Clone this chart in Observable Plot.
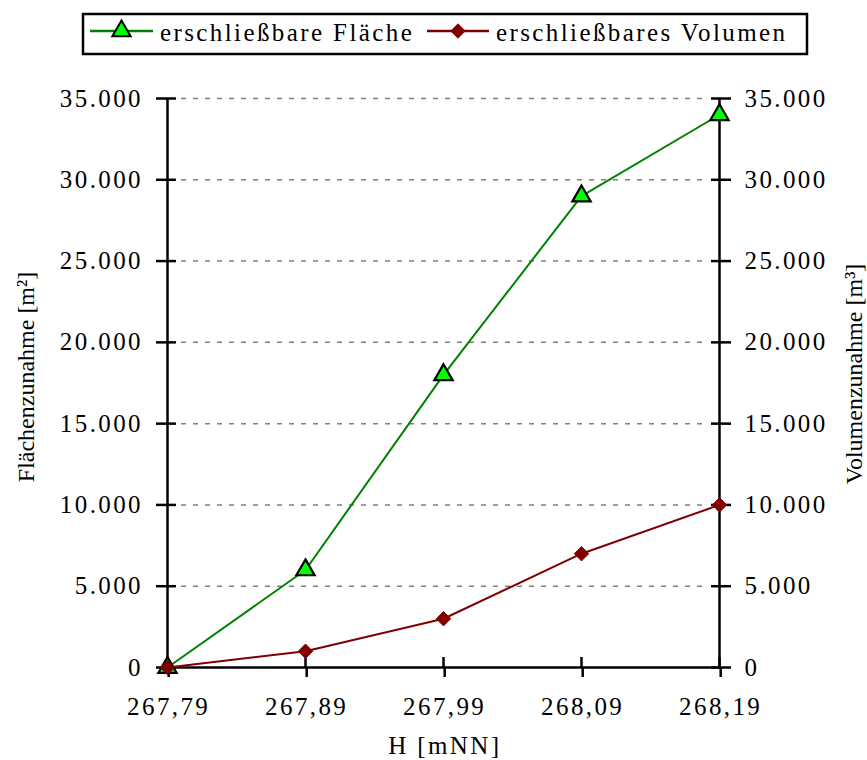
<!DOCTYPE html>
<html>
<head>
<meta charset="utf-8">
<script src="https://cdn.jsdelivr.net/npm/d3@7"></script>
<script src="https://cdn.jsdelivr.net/npm/@observablehq/plot@0.6"></script>
<style>
  body { margin: 0; background: #fff; }
  #wrap { position: relative; width: 867px; height: 760px; font-family: "Liberation Serif", "Times New Roman", serif; }
  #chart svg text { letter-spacing: 2.4px; }
  #chart svg text.title { letter-spacing: 0px; }
  #legend { position: absolute; left: 0; top: 0; }
</style>
</head>
<body>
<div id="wrap">
  <div id="chart"></div>
  <div id="legend"></div>
</div>
<script>
const categories = ["267,79", "267,89", "267,99", "268,09", "268,19"];
const flaeche = [0, 6000, 18000, 29000, 34000];
const volumen = [0, 1000, 3000, 7000, 10000];
const yTicks = [0, 5000, 10000, 15000, 20000, 25000, 30000, 35000];
const seriesNames = ["erschließbare Fläche", "erschließbares Volumen"];
const xTitle = "H [mNN]";
const yLeftTitle = "Flächenzunahme [m²]";
const yRightTitle = "Volumenzunahme [m³]";

const de = d3.formatLocale({decimal: ",", thousands: ".", grouping: [3], currency: ["", " €"]});
const fmt = de.format(",");

const dataF = categories.map((c, i) => ({x: c, y: flaeche[i]}));
const dataV = categories.map((c, i) => ({x: c, y: volumen[i]}));

const font = 25;
const blank = () => "";

const plot = Plot.plot({
  width: 867,
  height: 760,
  marginLeft: 166,
  marginRight: 147,
  marginTop: 98,
  marginBottom: 93,
  style: {fontFamily: "Liberation Serif, Times New Roman, serif", fontSize: font + "px", color: "#000", background: "#fff"},
  x: {type: "point", domain: categories, padding: 0, label: null},
  y: {domain: [0, 35000], label: null},
  marks: [
    Plot.ruleY(yTicks.filter(d => d > 0), {y: d => d, stroke: "#808080", strokeWidth: 1.5, strokeDasharray: "5,7", insetLeft: 15, insetRight: 12}),
    Plot.axisY({anchor: "left", ticks: yTicks, tickSize: 10, tickPadding: 13.5, tickFormat: fmt, strokeWidth: 2.5, fontSize: font}),
    Plot.axisY({anchor: "left", ticks: yTicks, tickSize: 10, dx: 10, tickFormat: blank, strokeWidth: 2.5}),
    Plot.axisY({anchor: "right", ticks: yTicks, tickSize: 10, tickPadding: 14, tickFormat: fmt, strokeWidth: 2.5, fontSize: font}),
    Plot.axisY({anchor: "right", ticks: yTicks, tickSize: 10, dx: -10, tickFormat: blank, strokeWidth: 2.5}),
    Plot.axisX({anchor: "bottom", tickSize: 10, tickPadding: 20, dx: 1.2, strokeWidth: 2.5, fontSize: font}),
    Plot.axisX({anchor: "bottom", tickSize: 10, dy: -10, tickFormat: blank, strokeWidth: 2.5}),
    Plot.ruleX([categories[0], categories[categories.length - 1]], {x: d => d, stroke: "#000", strokeWidth: 2.5}),
    Plot.ruleY([0], {stroke: "#000", strokeWidth: 2.5}),
    Plot.line(dataF, {x: "x", y: "y", stroke: "#008000", strokeWidth: 2}),
    Plot.dot(dataF, {x: "x", y: "y", symbol: "triangle", r: 6.8, fill: "#00ff00", stroke: "#000", strokeWidth: 2.2}),
    Plot.line(dataV, {x: "x", y: "y", stroke: "#800000", strokeWidth: 2}),
    Plot.dot(dataV, {x: "x", y: "y", symbol: "diamond2", r: 6.5, fill: "#800000", stroke: "#800000", strokeWidth: 1}),
    Plot.text([xTitle], {text: d => d, frameAnchor: "bottom", dy: 86, dx: 1.3, fontSize: font, textAnchor: "middle"}),
    Plot.text([yLeftTitle], {text: d => d, frameAnchor: "left", dx: -140, dy: -6, rotate: -90, fontSize: 24, textAnchor: "middle", className: "title"}),
    Plot.text([yRightTitle], {text: d => d, frameAnchor: "right", dx: 134, dy: -9, rotate: -90, fontSize: 24, textAnchor: "middle", className: "title"})
  ]
});
document.getElementById("chart").appendChild(plot);
plot.querySelectorAll("g.title text").forEach(t => t.setAttribute("class", "title"));

// Legend (drawn with d3 in its own SVG above the chart)
const lg = d3.create("svg").attr("width", 867).attr("height", 62)
  .attr("font-family", "Liberation Serif, Times New Roman, serif").attr("font-size", font);
lg.append("rect").attr("x", 83).attr("y", 14).attr("width", 724).attr("height", 40)
  .attr("fill", "#fff").attr("stroke", "#000").attr("stroke-width", 2.5);
const items = [
  {name: seriesNames[0], color: "#008000", x1: 90, x2: 153, textX: 160, sym: "tri"},
  {name: seriesNames[1], color: "#800000", x1: 427, x2: 489, textX: 496, sym: "dia"}
];
for (const it of items) {
  lg.append("line").attr("x1", it.x1).attr("x2", it.x2).attr("y1", 31).attr("y2", 31)
    .attr("stroke", it.color).attr("stroke-width", 2.5);
  const cx = (it.x1 + it.x2) / 2;
  if (it.sym === "tri") {
    lg.append("path").attr("d", d3.symbol(d3.symbolTriangle, Math.PI * 6.8 * 6.8)())
      .attr("transform", `translate(${cx},31)`)
      .attr("fill", "#00ff00").attr("stroke", "#000").attr("stroke-width", 2);
  } else {
    lg.append("path").attr("d", d3.symbol(d3.symbolDiamond2, Math.PI * 6.5 * 6.5)())
      .attr("transform", `translate(${cx},31)`)
      .attr("fill", it.color).attr("stroke", it.color).attr("stroke-width", 1);
  }
  lg.append("text").attr("x", it.textX).attr("y", 41).attr("letter-spacing", "2.4px").text(it.name);
}
document.getElementById("legend").appendChild(lg.node());
</script>
</body>
</html>
